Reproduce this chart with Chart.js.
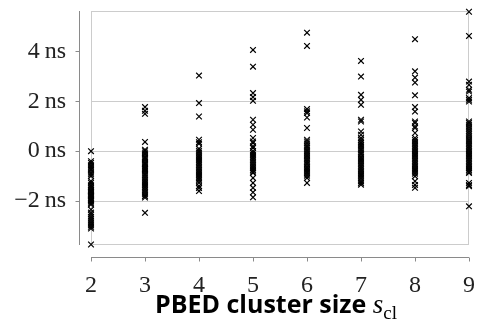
<!DOCTYPE html>
<html lang="en">
<head>
  <meta charset="UTF-8">
  <title>PBED cluster size</title>
  <style>
    html, body { margin: 0; padding: 0; background: white; }
    .chart-container { position: relative; width: 477px; height: 322px; }
  </style>
</head>
<body>
  <div class="chart-container">
    <canvas id="cluster-chart" width="477" height="322"></canvas>
  </div>

  <script src="https://cdn.jsdelivr.net/npm/chart.js@4.4.0/dist/chart.umd.min.js"></script>
  <script>
    // cluster sizes on the x axis
    const CLUSTER_SIZES = [2, 3, 4, 5, 6, 7, 8, 9];
    const Y_TICKS = [-2, 0, 2, 4];

    // offsets in ns, one list per cluster size
    const SIZE_2 = [0.0, -0.40, -0.47, -0.56, -0.63, -0.71, -0.77, -0.86, -0.93, -1.0,
      -1.2, -1.27, -1.36, -1.42, -1.49, -1.55, -1.61, -1.65, -1.71, -1.76, -1.8, -1.86,
      -1.9, -1.96, -2.0, -2.06, -2.1, -2.14, -1.63, -1.78, -2.34, -2.46, -2.54, -2.63,
      -2.71, -2.79, -2.88, -2.96, -3.03, -3.1, -3.74];
    const SIZE_3 = [1.77, 1.62, 1.5, 0.37, 0.06, 0.0, -0.08, -0.14, -0.23, -0.3, -0.37,
      -0.45, -0.53, -0.6, -0.67, -0.76, -0.82, -0.9, -0.97, -1.05, -1.13, -1.2, -1.27,
      -1.35, -1.43, -1.5, -1.57, -1.65, -1.73, -1.8, -1.86, -0.5, -0.71, -0.26, -2.47];
    const SIZE_4 = [3.03, 1.93, 1.39, 0.46, 0.36, 0.3, 0.1, 0.02, -0.05, -0.13, -0.2,
      -0.27, -0.35, -0.43, -0.5, -0.57, -0.65, -0.73, -0.8, -0.87, -0.95, -1.03, -1.1,
      -1.17, -1.26, -1.4, -1.48, -1.6];
    const SIZE_5 = [4.06, 3.39, 2.33, 2.17, 2.02, 1.26, 1.06, 0.86, 0.53, 0.39, 0.33,
      0.19, 0.13, 0.0, -0.07, -0.15, -0.23, -0.3, -0.37, -0.45, -0.53, -0.6, -0.67,
      -0.75, -0.82, -0.87, -1.07, -1.27, -1.47, -1.65, -1.85];
    const SIZE_6 = [4.75, 4.22, 1.69, 1.6, 1.53, 1.35, 0.93, 0.46, 0.39, 0.31, 0.22,
      0.15, 0.07, 0.0, -0.08, -0.16, -0.22, -0.3, -0.38, -0.45, -0.52, -0.61, -0.68,
      -0.75, -0.83, -0.9, -0.98, -1.07, -1.27];
    const SIZE_7 = [3.62, 2.99, 2.26, 2.06, 1.86, 1.26, 1.19, 0.79, 0.66, 0.53, 0.46,
      0.39, 0.33, 0.25, 0.18, 0.1, 0.03, -0.05, -0.12, -0.21, -0.28, -0.35, -0.42,
      -0.5, -0.58, -0.65, -0.72, -0.8, -0.88, -0.95, -1.02, -1.1, -1.2, -1.27, -1.34];
    const SIZE_8 = [4.49, 3.2, 2.95, 2.75, 2.24, 1.77, 1.59, 1.19, 1.13, 0.99, 0.93,
      0.73, 0.53, 0.45, 0.38, 0.3, 0.22, 0.15, 0.08, 0.0, -0.08, -0.15, -0.22, -0.3,
      -0.38, -0.45, -0.52, -0.6, -0.68, -0.75, -0.82, -0.9, -1.0, -1.2, -1.35, -1.47];
    const SIZE_9 = [5.59, 4.62, 2.79, 2.66, 2.46, 2.39, 2.13, 2.06, 1.99, 1.19, 1.13,
      1.06, 0.98, 0.9, 0.82, 0.75, 0.68, 0.6, 0.52, 0.45, 0.38, 0.3, 0.22, 0.15, 0.08,
      0.0, -0.08, -0.15, -0.22, -0.3, -0.38, -0.45, -0.52, -0.6, -0.68, -0.75, -0.82,
      -0.87, -1.27, -1.35, -1.4, -2.21];
    const OFFSETS = [SIZE_2, SIZE_3, SIZE_4, SIZE_5, SIZE_6, SIZE_7, SIZE_8, SIZE_9];

    const Y_MIN = -3.76;
    const Y_MAX = 5.62;
    const GRID_COLOR = '#cccccc';
    const SPINE_COLOR = '#8a8a8a';
    const LABEL_FONT = '"Liberation Serif", "DejaVu Serif", serif';
    const SPINE_GAP = 12;

    const points = [];
    CLUSTER_SIZES.forEach((size, i) => {
      for (const v of OFFSETS[i]) {
        points.push({ x: size, y: v });
      }
    });

    // frame round the plot, plus detached left/bottom spines and the x title
    const framePlugin = {
      id: 'frame',
      beforeDatasetsDraw(chart) {
        const { ctx, chartArea: a } = chart;
        ctx.save();
        ctx.strokeStyle = GRID_COLOR;
        ctx.lineWidth = 1;
        ctx.strokeRect(a.left + 0.5, a.top + 0.5, a.right - a.left - 1, a.bottom - a.top - 1);
        ctx.restore();
      },
      afterDraw(chart) {
        const { ctx, chartArea: a, scales } = chart;
        ctx.save();
        ctx.strokeStyle = SPINE_COLOR;
        ctx.lineWidth = 1;

        const sx = a.left - SPINE_GAP + 0.5;
        ctx.beginPath();
        ctx.moveTo(sx, a.top);
        ctx.lineTo(sx, a.bottom);
        for (const t of Y_TICKS) {
          const y = Math.round(scales.y.getPixelForValue(t)) + 0.5;
          ctx.moveTo(sx, y);
          ctx.lineTo(sx - 4, y);
        }
        ctx.stroke();

        const sy = a.bottom + SPINE_GAP + 0.5;
        ctx.beginPath();
        ctx.moveTo(a.left, sy);
        ctx.lineTo(a.right, sy);
        for (const s of CLUSTER_SIZES) {
          const x = Math.round(scales.x.getPixelForValue(s)) + 0.5;
          ctx.moveTo(x, sy);
          ctx.lineTo(x, sy + 4);
        }
        ctx.stroke();

        // x axis title: "PBED cluster size s_cl"
        const parts = [
          { text: 'PBED cluster size ', font: 'bold 25px "Open Sans", sans-serif', dy: 0 },
          { text: 's', font: 'italic 27px ' + LABEL_FONT, dy: 0 },
          { text: 'cl', font: '19px ' + LABEL_FONT, dy: 6 }
        ];
        let total = 0;
        for (const p of parts) {
          ctx.font = p.font;
          p.w = ctx.measureText(p.text).width;
          total += p.w;
        }
        let x = (a.left + a.right) / 2 - total / 2 - 4;
        ctx.fillStyle = '#000';
        ctx.textBaseline = 'alphabetic';
        ctx.textAlign = 'left';
        for (const p of parts) {
          ctx.font = p.font;
          ctx.fillText(p.text, x, 313 + p.dy);
          x += p.w;
        }
        ctx.restore();
      }
    };

    new Chart(document.getElementById('cluster-chart'), {
      type: 'scatter',
      data: {
        datasets: [{
          data: points,
          pointStyle: 'crossRot',
          pointRadius: 4,
          pointHoverRadius: 4,
          borderColor: '#000',
          backgroundColor: '#000',
          borderWidth: 1.2,
          clip: false
        }]
      },
      plugins: [framePlugin],
      options: {
        responsive: false,
        animation: false,
        events: [],
        layout: { padding: { top: 11, right: 8, left: 0, bottom: 0 } },
        plugins: {
          legend: { display: false },
          tooltip: { enabled: false }
        },
        scales: {
          x: {
            type: 'linear',
            min: 2,
            max: 9,
            afterBuildTicks(scale) {
              scale.ticks = CLUSTER_SIZES.map(v => ({ value: v }));
            },
            afterFit(scale) {
              scale.height = 77;
              scale.paddingLeft = 0;
              scale.paddingRight = 0;
            },
            grid: { display: false },
            border: { display: false },
            ticks: {
              autoSkip: false,
              padding: 18,
              color: '#222',
              font: { family: LABEL_FONT, size: 24 },
              maxRotation: 0
            }
          },
          y: {
            min: Y_MIN,
            max: Y_MAX,
            afterBuildTicks(scale) {
              scale.ticks = Y_TICKS.map(v => ({ value: v }));
            },
            afterFit(scale) {
              scale.width = 91;
              scale.paddingTop = 0;
              scale.paddingBottom = 0;
            },
            grid: {
              drawTicks: false,
              color: (c) => (c.tick && c.tick.value === 4) ? 'rgba(0,0,0,0)' : GRID_COLOR
            },
            border: { display: false },
            ticks: {
              autoSkip: false,
              padding: 25,
              color: '#222',
              font: { family: LABEL_FONT, size: 24 },
              callback: (v) => (v < 0 ? '\u2212' + Math.abs(v) : v) + '\u2009ns'
            }
          }
        }
      }
    });
  </script>
</body>
</html>
